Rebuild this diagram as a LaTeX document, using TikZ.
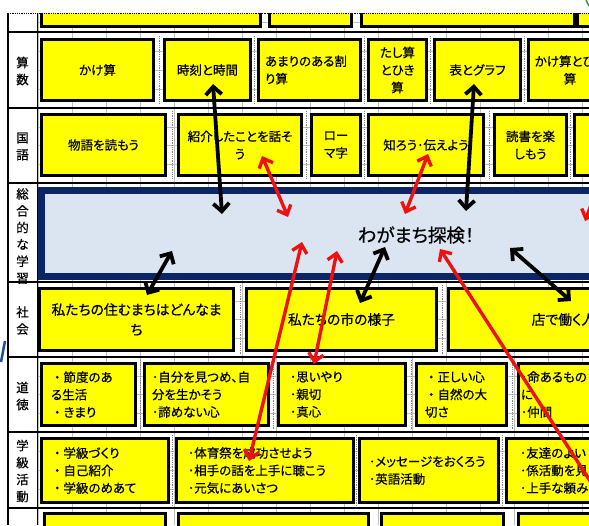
\documentclass[tikz,border=0pt]{standalone}
\usepackage{fontspec}
\newfontfamily\jp[CharacterWidth=AlternateProportional,FakeBold=0.6]{Noto Sans CJK JP}
\usetikzlibrary{arrows.meta}
\definecolor{yfill}{HTML}{FFFF00}
\definecolor{navy}{HTML}{0C2566}
\definecolor{pale}{HTML}{DBE5F1}
\definecolor{gridc}{HTML}{BFBFBF}
\definecolor{ared}{HTML}{EE1111}
\definecolor{markblue}{HTML}{1F4E9A}
\definecolor{markgreen}{HTML}{2E9E3E}
\newcommand\fd{\makebox[1em][c]{・}}
\newcommand\ybox[7][]{%
  \node[yb,minimum width={(#5)-(#3)-2.6},minimum height={(#6)-(#4)-2.6},#1] (#2) at ({((#3)+(#5))/2},{((#4)+(#6))/2}) {#7};}
\tikzset{
  yb/.style={draw=black,line width=2.6pt,fill=yfill,inner sep=0pt,align=center,font=\jp\fontsize{12.5}{17.5}\selectfont},
  lft/.style={align=left,text width=#1},
  big/.style={font=\jp\fontsize{13.8}{20}\selectfont},
  lab/.style={inner sep=0pt,align=center,font=\jp\fontsize{12.5}{17}\selectfont},
  blk/.style={draw=black,line width=3.8pt,<->,>={Straight Barb[length=8pt,width=16pt]}},
  redar/.style={draw=ared,line width=3.4pt,<->,>={Straight Barb[length=8pt,width=15pt]}},
  sepline/.style={draw=black,line width=1.5pt},
  gline/.style={draw=gridc,line width=0.5pt},
  gapline/.style={draw=gray,line width=0.8pt,densely dotted},
}
\begin{document}
\begin{tikzpicture}[x=1pt,y=-1pt]
\useasboundingbox (0,0) rectangle (589,525);
\clip (0,0) rectangle (589,525);
\fill[white] (0,0) rectangle (589,525);
% spreadsheet grid
\foreach \k in {0,...,16} \draw[gline] ({38+34*\k},13) -- ({38+34*\k},525);
\foreach \yy in {22,51,70,89,126.75,145.5,164.25,202.8,222.6,242.4,262.2,300.75,319.5,338.25,375.75,394.5,413.25,451,470,489}
  \draw[gline] (38,\yy) -- (589,\yy);
% dotted marks in gaps between boxes
\foreach \gx/\ya/\yz in {159/36/104, 254.5/36/104, 364.5/36/104, 430.5/36/104, 524.5/36/104,
  172/111/179, 306.5/111/179, 364.5/111/179, 489/111/179, 570.5/111/179,
  240/285/354, 442.5/285/354,
  140/360/429, 273.5/360/429, 411/360/429, 512.5/360/429,
  172.5/435/506, 356.5/435/506, 502.5/435/506}
  \draw[gapline] (\gx,\ya) -- (\gx,\yz);
% top row (cut off)
\ybox{t1}{40}{-20}{262}{28}{}
\ybox{t2}{268}{-20}{353}{28}{}
\ybox{t3}{360}{-20}{576}{28}{}
\ybox{t4}{576}{-20}{640}{28}{}
% 算数
\ybox{s1}{40}{38}{155}{102}{かけ算}
\ybox{s2}{163}{38}{252}{102}{時刻と時間}
\ybox[lft=89pt]{s3}{257}{38}{362}{102}{あまりのある割\\り算}
\ybox{s4}{367}{38}{428}{102}{たし算\\とひき\\算}
\ybox{s5}{433}{38}{522}{102}{表とグラフ}
\ybox{s6}{527}{38}{613}{102}{かけ算とひ\phantom{き}\\算}
% 国語
\ybox{k1}{40}{113}{167}{177}{物語を読もう}
\ybox{k2}{177}{113}{303}{177}{紹介したことを話そ\\う}
\ybox{k3}{310}{113}{362}{177}{ロー\\マ字}
\ybox{k4}{367}{113}{485}{177}{知ろう･伝えよう}
\ybox{k5}{493}{113}{568}{177}{読書を楽\\しもう}
\ybox{k6}{573}{113}{640}{177}{}
% 総合的な学習
\node[draw=navy,line width=7pt,fill=pale,minimum width=860,minimum height=86.5,inner sep=0pt] (sogo) at (471.25,233.5) {};
\node[font=\jp\fontsize{18.5}{20}\selectfont,inner sep=0pt] (title) at (416,235) {わがまち探検！};
% 社会
\ybox[big]{c1}{38}{287}{235}{352}{私たちの住むまちはどんなま\\ち}
\ybox[big]{c2}{245}{287}{438}{352}{私たちの市の様子}
\ybox[big]{c3}{447}{287}{680}{352}{店で働く人}
% 道徳
\ybox[lft=75pt]{d1}{40}{362}{137}{427}{\fd 節度のあ\\る生活\\\fd きまり}
\ybox[lft=109pt]{d2}{143}{362}{270}{427}{･自分を見つめ、自\\分を生かそう\\･諦めない心}
\ybox[lft=104pt]{d3}{277}{362}{407}{427}{･思いやり\\･親切\\･真心}
\ybox[lft=73pt]{d4}{415}{362}{508}{427}{\fd 正しい心\\\fd 自然の大\\切さ}
\ybox[lft=125pt]{d5}{517}{362}{650}{427}{･命あるもの\\に\\･仲間}
% 学級活動
\ybox[lft=108pt]{g1}{40}{437}{170}{504}{\fd 学級づくり\\\fd 自己紹介\\\fd 学級のめあて}
\ybox[lft=154pt]{g2}{175}{437}{355}{504}{･体育祭を成功させよう\\･相手の話を上手に聴こう\\･元気にあいさつ}
\ybox[lft=120pt]{g3}{358}{437}{500}{504}{･メッセージをおくろう\\･英語活動}
\ybox[lft=115pt]{g4}{505}{437}{650}{504}{･友達のよい\\･係活動を見\\･上手な頼み}
% bottom row (cut off)
\ybox{e1}{43}{512}{167}{560}{}
\ybox{e2}{177}{512}{370}{560}{}
\ybox{e3}{380}{512}{505}{560}{}
\ybox{e4}{517}{512}{650}{560}{}
% white strip at the top
\fill[white] (0,0) rectangle (589,13);
\draw[densely dotted,line width=0.8pt] (8,13) -- (589,13);
% row separators and label column
\foreach \yy in {32,108,183,282,357,432,508} \draw[sepline] (8,\yy) -- (589,\yy);
\draw[sepline] (8,13) -- (8,525);
\draw[sepline] (37.5,13) -- (37.5,525);
% row labels
\node[lab] (l1) at (22.5,71) {算\\数};
\node[lab] (l2) at (22.5,146.5) {国\\語};
\node[lab,font=\jp\fontsize{12.5}{16.8}\selectfont] (l3) at (22.5,236) {総\\合\\的\\な\\学\\習};
\node[lab] (l4) at (22.5,320.5) {社\\会};
\node[lab] (l5) at (22.5,396) {道\\徳};
\node[lab] (l6) at (22.5,471) {学\\級\\活\\動};
% small marks at the edges
\draw[markblue,line width=2.5pt] (1,362) -- (5,341);
\draw[markgreen,line width=1.5pt] (586,0) -- (589,6);
% arrow end points
\coordinate (k1a) at (213,84);  \coordinate (k1b) at (222,214);
\coordinate (k2a) at (474,84);  \coordinate (k2b) at (466,211);
\coordinate (k3a) at (172,251); \coordinate (k3b) at (147,295);
\coordinate (k4a) at (385,247); \coordinate (k4b) at (360,303);
\coordinate (k5a) at (510,248); \coordinate (k5b) at (571,301);
\coordinate (r1a) at (262,156); \coordinate (r1b) at (288,217);
\coordinate (r2a) at (428,154); \coordinate (r2b) at (405,214);
\coordinate (r3a) at (612,150); \coordinate (r3b) at (585,221);
\coordinate (r4a) at (337,251); \coordinate (r4b) at (314,364);
\coordinate (r5a) at (302,242); \coordinate (r5b) at (249,461);
\coordinate (r6a) at (440,249); \coordinate (r6b) at (625,535);
% red arrows
\draw[redar] (r1a) -- (r1b);
\draw[redar] (r2a) -- (r2b);
\draw[redar] (r3a) -- (r3b);
\draw[redar] (r4a) -- (r4b);
\draw[redar] (r5a) -- (r5b);
\draw[redar] (r6a) -- (r6b);
% black arrows
\draw[blk] (k1a) -- (k1b);
\draw[blk] (k2a) -- (k2b);
\draw[blk] (k3a) -- (k3b);
\draw[blk] (k4a) -- (k4b);
\draw[blk] (k5a) -- (k5b);
\end{tikzpicture}
\end{document}
